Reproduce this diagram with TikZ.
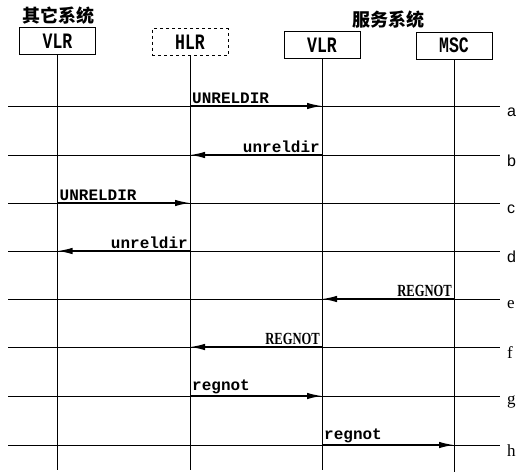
\documentclass[tikz,border=0pt]{standalone}
\usepackage{fontspec}
\setmainfont{Liberation Serif}
\newfontfamily\cjk{Noto Sans CJK SC}
\newfontfamily\monof{Liberation Mono}
\newfontfamily\monocond[FakeStretch=0.75]{Liberation Mono Bold}
\newfontfamily\serifcond[FakeStretch=0.74]{Liberation Serif Bold}
\newfontfamily\sansf{Liberation Sans}
\usetikzlibrary{arrows.meta}
\begin{document}
\begin{tikzpicture}[x=1pt,y=-1pt,
  actor/.style={draw, line width=0.7pt, minimum width=76pt, minimum height=27pt, inner sep=0pt, font=\monocond\fontsize{22}{22}\selectfont},
  life/.style={line width=0.7pt},
  bgline/.style={line width=0.6pt},
  msg/.style={line width=1.4pt, -{Latex[length=15pt,width=6.5pt]}},
  lbl/.style={font=\monof\bfseries\fontsize{16}{16}\selectfont, inner sep=1.5pt},
  lblb/.style={font=\serifcond\fontsize{17}{17}\selectfont, inner sep=1.5pt},
  rowsans/.style={font=\sansf\fontsize{16}{16}\selectfont, anchor=west, inner sep=0pt},
  rowserif/.style={font=\fontsize{17}{17}\selectfont, anchor=west, inner sep=0pt},
  title/.style={font=\cjk\bfseries\fontsize{18}{18}\selectfont, inner sep=0pt}
]
\useasboundingbox (0,0) rectangle (519,475);
% titles
\node[title] (t1) at (58,16) {其它系统};
\node[title] (t2) at (388,20) {服务系统};
% actors
\node[actor] (vlro) at (57.5,41) {VLR};
\node[actor,dashed] (hlr) at (190,42) {HLR};
\node[actor] (vlrs) at (322,45) {VLR};
\node[actor] (msc) at (454,45.5) {MSC};
% lifelines
\coordinate (vlroE) at (57.5,470);
\coordinate (hlrE) at (190,470);
\coordinate (vlrsE) at (322,470);
\coordinate (mscE) at (454,472);
\draw[life] (vlro) -- (vlroE);
\draw[life] (hlr) -- (hlrE);
\draw[life] (vlrs) -- (vlrsE);
\draw[life] (msc) -- (mscE);
% rows
\foreach \r/\y in {a/106,b/155,c/203,d/251,e/299,f/347,g/396,h/445}{
  \coordinate (L\r) at (8,\y);
  \coordinate (R\r) at (500,\y);
  \draw[bgline] (L\r) -- (R\r);
}
\foreach \r/\y in {a/106,b/155,c/203,d/251}{
  \node[rowsans] (lab\r) at (507,\y+6) {\r};
}
\foreach \r/\y in {e/299,f/347,g/396,h/445}{
  \node[rowserif] (lab\r) at (507,\y+6) {\r};
}
% messages
\draw[msg] (hlr |- La) -- (vlrs |- La) node[lbl, pos=0, anchor=south west] (ma) {UNRELDIR};
\draw[msg] (vlrs |- Lb) -- (hlr |- Lb) node[lbl, pos=0, anchor=south east] (mb) {unreldir};
\draw[msg] (vlro |- Lc) -- (hlr |- Lc) node[lbl, pos=0, anchor=south west] (mc) {UNRELDIR};
\draw[msg] (hlr |- Ld) -- (vlro |- Ld) node[lbl, pos=0, anchor=south east] (md) {unreldir};
\draw[msg] (msc |- Le) -- (vlrs |- Le) node[lblb, pos=0, anchor=south east] (me) {REGNOT};
\draw[msg] (vlrs |- Lf) -- (hlr |- Lf) node[lblb, pos=0, anchor=south east] (mf) {REGNOT};
\draw[msg] (hlr |- Lg) -- (vlrs |- Lg) node[lbl, pos=0, anchor=south west] (mg) {regnot};
\draw[msg] (vlrs |- Lh) -- (msc |- Lh) node[lbl, pos=0, anchor=south west] (mh) {regnot};
\end{tikzpicture}
\end{document}
